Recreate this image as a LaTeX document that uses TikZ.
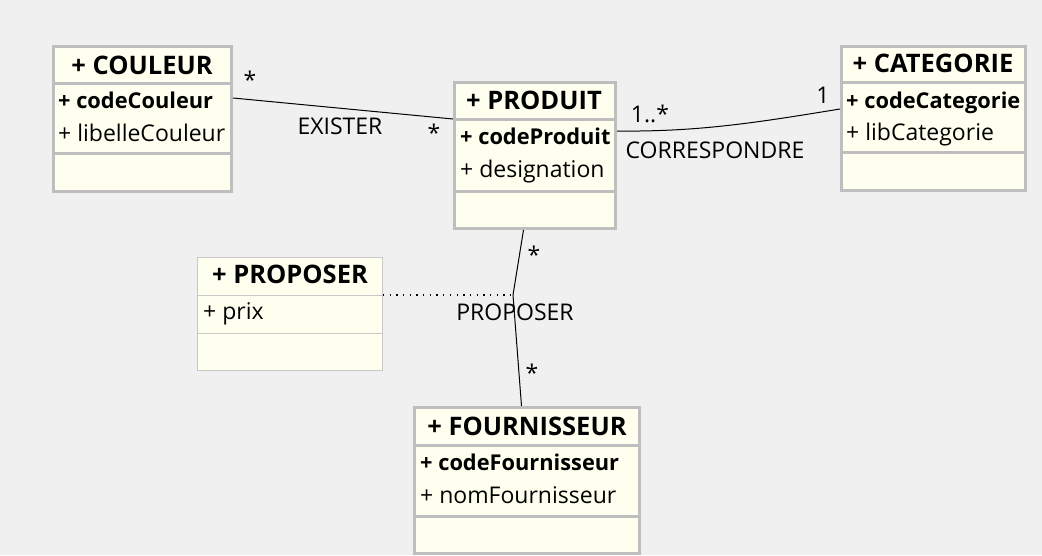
\documentclass[tikz,border=0pt]{standalone}
\usepackage{fontspec}
\setmainfont{Open Sans}
\usetikzlibrary{positioning}
\definecolor{bgGray}{HTML}{F0F0F0}
\definecolor{boxFill}{HTML}{FFFFF0}
\definecolor{boxLine}{HTML}{BEBEBE}
\definecolor{thinLine}{HTML}{C8C8C8}

\begin{document}
\begin{tikzpicture}[line join=miter,x=1pt,y=-1pt,
    classbox/.style={draw=boxLine,fill=boxFill,line width=3pt,anchor=north west,inner sep=0pt},
    assocbox/.style={draw=thinLine,fill=boxFill,line width=0.8pt,anchor=north west,inner sep=0pt},
    sepline/.style={draw=boxLine,line width=3pt},
    thinsep/.style={draw=thinLine,line width=0.8pt},
    classtitle/.style={font=\fontsize{25.5}{28}\selectfont\bfseries,anchor=base,inner sep=0pt},
    keyattr/.style={font=\fontsize{21.8}{26}\selectfont\bfseries,anchor=base west,inner sep=0pt},
    attr/.style={font=\fontsize{23}{26}\selectfont,anchor=base west,inner sep=0pt},
    lbl/.style={font=\fontsize{23}{26}\selectfont,anchor=base,inner sep=0pt},
    mult/.style={font=\fontsize{23}{26}\selectfont,inner sep=0pt},
    assoc/.style={line width=1pt,black}]
    \useasboundingbox (0,0) rectangle (1042,555);
    \fill[bgGray] (0,0) rectangle (1042,555);

    % classes
    \node[classbox,minimum width=178pt,minimum height=145pt] (couleur) at (52,45) {};
    \draw[sepline] ([yshift=-38pt]couleur.north west) -- ([yshift=-38pt]couleur.north east);
    \draw[sepline] ([yshift=-108pt]couleur.north west) -- ([yshift=-108pt]couleur.north east);
    \node[classtitle] (couleurT) at (142,74) {+ COULEUR};
    \node[keyattr] (couleurK) at (58,108) {+ codeCouleur};
    \node[attr] (couleurA) at (58,141) {+ libelleCouleur};

    \node[classbox,minimum width=161pt,minimum height=146pt] (produit) at (453,81) {};
    \draw[sepline] ([yshift=-38pt]produit.north west) -- ([yshift=-38pt]produit.north east);
    \draw[sepline] ([yshift=-110pt]produit.north west) -- ([yshift=-110pt]produit.north east);
    \node[classtitle] (produitT) at (534,109) {+ PRODUIT};
    \node[keyattr] (produitK) at (460,144) {+ codeProduit};
    \node[attr] (produitA) at (460,177) {+ designation};

    \node[classbox,minimum width=184pt,minimum height=144pt] (categorie) at (840,45) {};
    \draw[sepline] ([yshift=-37pt]categorie.north west) -- ([yshift=-37pt]categorie.north east);
    \draw[sepline] ([yshift=-107pt]categorie.north west) -- ([yshift=-107pt]categorie.north east);
    \node[classtitle] (categorieT) at (933,72) {+ CATEGORIE};
    \node[keyattr] (categorieK) at (846,108) {+ codeCategorie};
    \node[attr] (categorieA) at (846,140) {+ libCategorie};

    \node[classbox,minimum width=225pt,minimum height=146pt] (fournisseur) at (413,406) {};
    \draw[sepline] ([yshift=-39pt]fournisseur.north west) -- ([yshift=-39pt]fournisseur.north east);
    \draw[sepline] ([yshift=-110pt]fournisseur.north west) -- ([yshift=-110pt]fournisseur.north east);
    \node[classtitle] (fournisseurT) at (527,435) {+ FOURNISSEUR};
    \node[keyattr] (fournisseurK) at (420,470) {+ codeFournisseur};
    \node[attr] (fournisseurA) at (420,503) {+ nomFournisseur};

    % association class
    \node[assocbox,minimum width=185pt,minimum height=113pt] (proposer) at (197,257) {};
    \draw[thinsep] ([yshift=-38pt]proposer.north west) -- ([yshift=-38pt]proposer.north east);
    \draw[thinsep] ([yshift=-76pt]proposer.north west) -- ([yshift=-76pt]proposer.north east);
    \node[classtitle] (proposerT) at (290,283) {+ PROPOSER};
    \node[attr] (proposerA) at (203,319) {+ prix};

    % associations
    \draw[assoc] ([yshift=-53pt]couleur.north east) -- ([yshift=-38pt]produit.north west);
    \node[mult] at (250,80) {*};
    \node[lbl] at (340,134) {EXISTER};
    \node[mult] at (434,133) {*};

    \draw[assoc] ([yshift=-50pt]produit.north east) .. controls (700,132) and (760,122) .. ([yshift=-64pt]categorie.north west);
    \node[lbl] at (650,122) {1..*};
    \node[lbl] at (715,158) {CORRESPONDRE};
    \node[lbl] at (823,103) {1};

    \coordinate (propmid) at (513,295);
    \draw[assoc] ([xshift=-11.5pt]produit.south) -- (propmid) -- ([xshift=-5.5pt]fournisseur.north);
    \draw[line width=1.3pt,dash pattern=on 1.3pt off 5.4pt] (proposer.east |- propmid) -- (propmid);
    \node[mult] at (534,255) {*};
    \node[lbl] at (515,320) {PROPOSER};
    \node[mult] at (532,373) {*};
\end{tikzpicture}
\end{document}
